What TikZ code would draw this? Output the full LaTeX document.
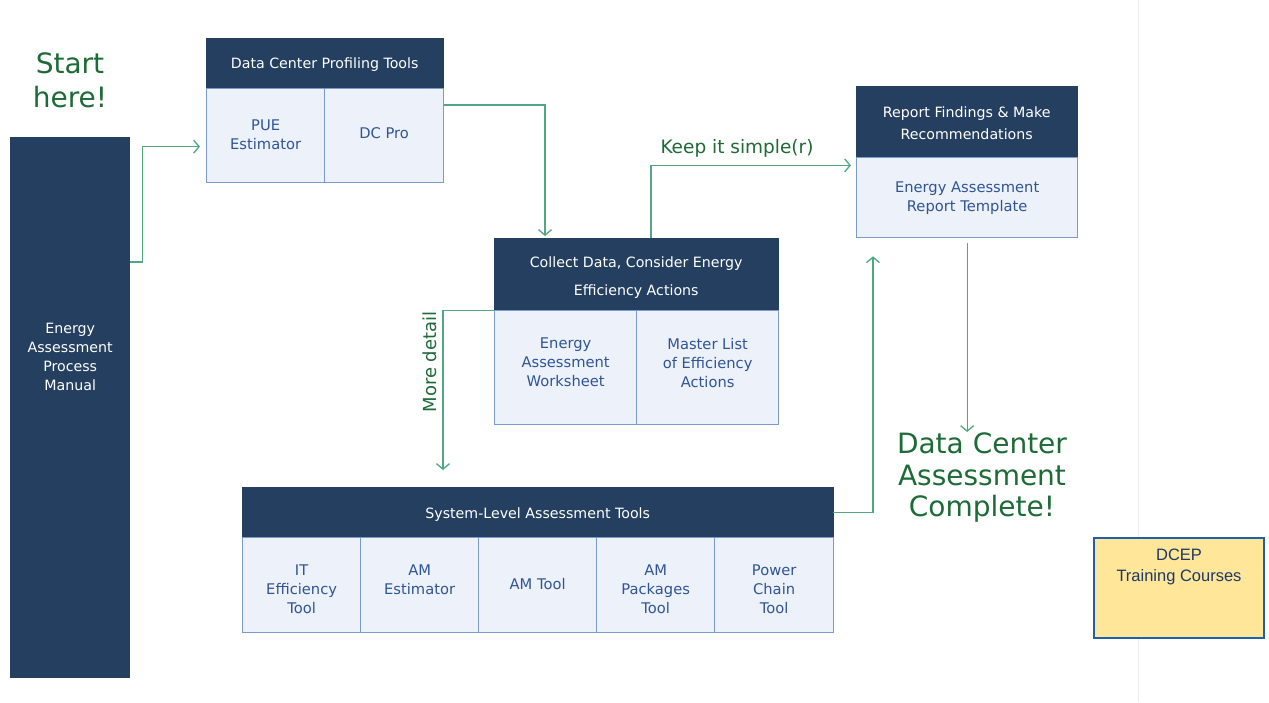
\documentclass[tikz,border=0pt]{standalone}
\usepackage{fontspec}
\setmainfont{DejaVu Sans}
\newfontfamily\arialfont{Liberation Sans}
\usetikzlibrary{arrows.meta,calc}
\definecolor{navy}{HTML}{243F60}
\definecolor{cellfill}{HTML}{EDF1F9}
\definecolor{cellline}{HTML}{7B9BCF}
\definecolor{celltext}{HTML}{2F5597}
\definecolor{arrowgreen}{HTML}{4FA882}
\definecolor{textgreen}{HTML}{1D6B36}
\definecolor{dcepfill}{HTML}{FFE699}
\definecolor{dcepline}{HTML}{1F5FAD}
\definecolor{dceptext}{HTML}{1F3864}
\begin{document}
\begin{tikzpicture}[x=1pt,y=-1pt,
  header/.style={draw=navy, fill=navy, inner sep=0pt, anchor=north west},
  htext/.style={text=white, inner sep=0pt, align=center, font=\fontsize{14.2}{22}\selectfont},
  cell/.style={draw=cellline, line width=1.3pt, fill=cellfill, inner sep=0pt, anchor=north west},
  ctext/.style={text=celltext, inner sep=0pt, align=center, font=\fontsize{14.7}{19}\selectfont},
  greentext/.style={text=textgreen, inner sep=0pt, align=center},
  arr/.style={draw=arrowgreen, line width=1.3pt, -{Straight Barb[length=5.5pt,width=13pt,line width=1.3pt]}}
]
\useasboundingbox[fill=white] (0,0) rectangle (1269,702);
\draw[black!7, line width=0.8pt] (1138,0) -- (1138,702);

% left bar
\node[fill=navy, inner sep=0pt, minimum width=120pt, minimum height=541pt, anchor=north west,
  label={[text=white, align=center, font=\fontsize{14.2}{19}\selectfont, yshift=51pt]center:{Energy\\Assessment\\Process\\Manual}}] (manual) at (10,137) {};

\node[greentext, font=\fontsize{28}{34}\selectfont] (start) at (70,80) {Start\\here!};

% profiling tools
\node[header, minimum width=237pt, minimum height=50pt,
  label={[htext, yshift=-1pt]center:{Data Center Profiling Tools}}] (profhead) at (206,38) {};
\node[cell, minimum width=118pt, minimum height=94pt,
  label={[ctext, yshift=1pt]center:{PUE\\Estimator}}] (pue) at (206,88) {};
\node[cell, minimum width=119pt, minimum height=94pt,
  label={[ctext, yshift=3pt]center:{DC Pro}}] (dcpro) at (324,88) {};

% collect data
\node[header, minimum width=284pt, minimum height=72pt,
  label={[htext, font=\fontsize{14.2}{28}\selectfont, yshift=-3pt]center:{Collect Data, Consider Energy\\Efficiency Actions}}] (collecthead) at (494,238) {};
\node[cell, minimum width=142pt, minimum height=114pt,
  label={[ctext, yshift=5pt]center:{Energy\\Assessment\\Worksheet}}] (worksheet) at (494,310) {};
\node[cell, minimum width=142pt, minimum height=114pt,
  label={[ctext, yshift=5pt]center:{Master List\\of Efficiency\\Actions}}] (master) at (636,310) {};

% report
\node[header, minimum width=221pt, minimum height=71pt,
  label={[htext, yshift=-1.5pt]center:{Report Findings \& Make\\Recommendations}}] (reporthead) at (856,86) {};
\node[cell, minimum width=221pt, minimum height=80pt,
  label={[ctext, yshift=-1pt]center:{Energy Assessment\\Report Template}}] (reportcell) at (856,157) {};

% system level
\node[header, minimum width=591pt, minimum height=50pt,
  label={[htext, yshift=-2.5pt]center:{System-Level Assessment Tools}}] (syshead) at (242,487) {};
\node[cell, minimum width=118pt, minimum height=95pt,
  label={[ctext, yshift=-4.5pt]center:{IT\\Efficiency\\Tool}}] (it) at (242,537) {};
\node[cell, minimum width=118pt, minimum height=95pt,
  label={[ctext, yshift=5pt]center:{AM\\Estimator}}] (amest) at (360,537) {};
\node[cell, minimum width=118pt, minimum height=95pt,
  label={[ctext, yshift=1pt]center:{AM Tool}}] (amtool) at (478,537) {};
\node[cell, minimum width=118pt, minimum height=95pt,
  label={[ctext, yshift=-4.5pt]center:{AM\\Packages\\Tool}}] (ampkg) at (596,537) {};
\node[cell, minimum width=119pt, minimum height=95pt,
  label={[ctext, yshift=-4.5pt]center:{Power\\Chain\\Tool}}] (power) at (714,537) {};

% completion text
\node[greentext, font=\fontsize{28}{31.5}\selectfont] (complete) at (982,478) {Data Center\\Assessment\\Complete!};

% DCEP
\node[draw=dcepline, line width=2pt, fill=dcepfill, minimum width=170pt, minimum height=100pt, anchor=north west, inner sep=0pt,
  label={[text=dceptext, align=center, font=\arialfont\fontsize{16.5}{21}\selectfont, yshift=21pt]center:{DCEP\\Training Courses}}] (dcep) at (1093,537) {};

% labels
\node[greentext, font=\fontsize{18.5}{22}\selectfont] (simple) at (737,148) {Keep it simple(r)};
\node[greentext, font=\fontsize{18}{22}\selectfont, rotate=90] (detail) at (430,362) {More detail};

% connectors
\draw[arr] ($(manual.north east)+(0,125)$) -- ++(12,0) |- ($(pue.west)+(-6,11)$);
\draw[arr] ($(dcpro.north east)+(0,17)$) -| ($(collecthead.north west)+(51,-2)$);
\draw[arr] ($(collecthead.north west)+(157,0)$) |- ($(reporthead.south west)+(-5,8)$);
\draw[arr] (collecthead.south west) -| ($(syshead.north west)+(201,-17)$);
\draw[arr] (syshead.east) -| ($(reportcell.south west)+(17,18)$);
\draw[arr] ($(reportcell.south)+(0,5)$) -- ($(reportcell.south |- complete.north)+(0,-1)$);
\end{tikzpicture}
\end{document}
